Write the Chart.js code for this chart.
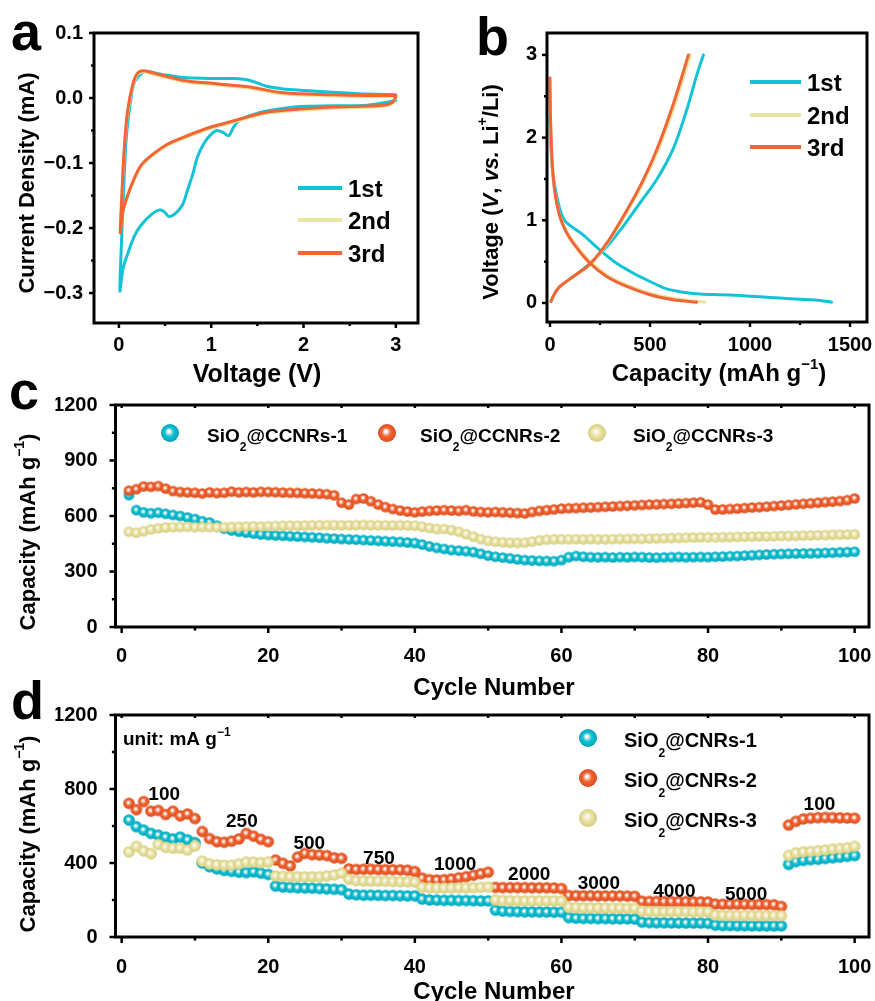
<!DOCTYPE html>
<html>
<head>
<meta charset="utf-8">
<script src="https://cdn.jsdelivr.net/npm/chart.js@4.4.1/dist/chart.umd.min.js"></script>
<style>
  html, body { margin: 0; padding: 0; background: #fff; }
  #fig { position: relative; width: 875px; height: 1001px; overflow: hidden; }
  #fig canvas { position: absolute; left: 0; top: 0; width: 875px; height: 1001px; }
</style>
</head>
<body>
<div id="fig">
  <canvas id="cvA" width="875" height="1001"></canvas>
  <canvas id="cvB" width="875" height="1001"></canvas>
  <canvas id="cvC" width="875" height="1001"></canvas>
  <canvas id="cvD" width="875" height="1001"></canvas>
</div>
<script>
// ---- (a) cyclic voltammetry: voltage (V) / current (mA), path = cathodic sweep then anodic sweep
const cvVolt1 = [3.00, 2.69, 2.32, 1.96, 1.60, 1.42, 1.31, 1.245, 1.19, 1.13, 1.06, 0.99, 0.92, 0.85, 0.80, 0.74, 0.69, 0.60, 0.54, 0.49, 0.44, 0.345, 0.237, 0.165, 0.094, 0.04, 0.011,
                 0.02, 0.047, 0.076, 0.116, 0.166, 0.245, 0.295, 0.40, 0.52, 0.74, 1.06, 1.245, 1.42, 1.60, 1.78, 1.96, 2.32, 2.70, 3.00];
const cvCurr1 = [-0.004, -0.011, -0.012, -0.013, -0.020, -0.027, -0.034, -0.044, -0.058, -0.053, -0.050, -0.057, -0.070, -0.091, -0.117, -0.143, -0.164, -0.179, -0.182, -0.175, -0.172, -0.180, -0.196, -0.213, -0.240, -0.265, -0.297,
                 -0.250, -0.156, -0.068, -0.015, 0.024, 0.038, 0.041, 0.038, 0.035, 0.031, 0.030, 0.030, 0.027, 0.018, 0.014, 0.012, 0.009, 0.006, 0.005];
const cvVolt2 = [3.00, 2.97, 2.86, 2.32, 1.96, 1.60, 1.245, 0.99, 0.74, 0.525, 0.345, 0.237, 0.165, 0.094, 0.04, 0.015,
                 0.03, 0.058, 0.094, 0.148, 0.20, 0.27, 0.41, 0.70, 1.06, 1.42, 1.78, 2.32, 2.70, 3.00];
const cvCurr2 = [0.001, -0.008, -0.013, -0.016, -0.019, -0.024, -0.037, -0.047, -0.060, -0.073, -0.091, -0.106, -0.126, -0.151, -0.176, -0.205,
                 -0.156, -0.080, -0.024, 0.017, 0.036, 0.040, 0.035, 0.025, 0.020, 0.015, 0.006, 0.003, 0.002, 0.002];
const cvVolt3 = [3.00, 2.97, 2.86, 2.32, 1.96, 1.60, 1.245, 0.99, 0.74, 0.525, 0.345, 0.237, 0.165, 0.094, 0.04, 0.015,
                 0.03, 0.058, 0.094, 0.148, 0.20, 0.27, 0.41, 0.70, 1.06, 1.42, 1.78, 2.32, 2.70, 3.00];
const cvCurr3 = [0.003, -0.006, -0.011, -0.014, -0.017, -0.022, -0.035, -0.045, -0.058, -0.071, -0.089, -0.104, -0.124, -0.150, -0.176, -0.207,
                 -0.155, -0.077, -0.020, 0.020, 0.038, 0.042, 0.037, 0.027, 0.022, 0.017, 0.008, 0.005, 0.004, 0.004];
const cvVoltTicks = [0, 1, 2, 3];
const cvCurrTicks = [0.1, 0, -0.1, -0.2, -0.3];

// ---- (b) discharge / charge profiles: capacity (mAh/g), voltage (V)
const gcCap1d = [0, 3, 8, 15, 25, 40, 55, 75, 110, 167, 250, 333, 417, 500, 583, 667, 750, 850, 950, 1050, 1150, 1250, 1350, 1408];
const gcVolt1d = [2.25, 2.0, 1.75, 1.55, 1.40, 1.22, 1.09, 0.99, 0.92, 0.82, 0.64, 0.48, 0.36, 0.26, 0.17, 0.13, 0.11, 0.10, 0.09, 0.075, 0.06, 0.045, 0.03, 0.01];
const gcCap1c = [5, 20, 50, 117, 200, 283, 367, 450, 533, 617, 683, 733, 767];
const gcVolt1c = [0.02, 0.10, 0.20, 0.32, 0.48, 0.68, 0.93, 1.21, 1.49, 1.87, 2.33, 2.75, 3.0];
const gcCap2d = [0, 2, 5, 12, 25, 50, 85, 137, 205, 290, 392, 512, 635, 775];
const gcVolt2d = [2.60, 2.28, 2.04, 1.65, 1.33, 1.05, 0.86, 0.68, 0.49, 0.33, 0.21, 0.11, 0.05, 0.01];
const gcCap2c = [5, 20, 50, 118, 202, 287, 372, 457, 541, 626, 703];
const gcVolt2c = [0.02, 0.10, 0.20, 0.32, 0.47, 0.72, 1.05, 1.41, 1.85, 2.41, 3.0];
const gcCap3d = [0, 2, 5, 12, 25, 50, 83, 133, 200, 283, 383, 500, 617, 733];
const gcVolt3d = [2.72, 2.30, 2.05, 1.65, 1.33, 1.04, 0.85, 0.67, 0.48, 0.32, 0.20, 0.10, 0.04, 0.01];
const gcCap3c = [5, 20, 50, 117, 200, 283, 367, 450, 533, 617, 692];
const gcVolt3c = [0.02, 0.10, 0.20, 0.32, 0.47, 0.72, 1.05, 1.41, 1.85, 2.41, 3.0];
const gcCapTicks = [0, 500, 1000, 1500];
const gcVoltTicks = [0, 1, 2, 3];
const cycleLabels = ['1st', '2nd', '3rd'];

// ---- (c) cycling, capacity (mAh/g) per cycle
const cycles = Array.from({ length: 100 }, (_, i) => i + 1);
const cycCap1 = [713, 632, 620, 615, 618, 612, 606, 600, 592, 584,
                 572, 565, 548, 532, 522, 515, 510, 505, 500, 497,
                 495, 493, 491, 489, 487, 485, 483, 480, 478, 476,
                 474, 472, 470, 468, 466, 464, 462, 460, 457, 454,
                 446, 436, 428, 422, 416, 413, 410, 405, 396, 386,
                 380, 375, 371, 366, 362, 360, 358, 357, 356, 362,
                 378, 384, 380, 378, 377, 378, 376, 378, 377, 379,
                 378, 376, 375, 377, 378, 379, 377, 378, 379, 378,
                 380, 381, 383, 384, 386, 388, 390, 392, 394, 395,
                 396, 397, 398, 398, 399, 401, 402, 404, 405, 407];
const cycCap2 = [737, 745, 760, 758, 762, 748, 735, 730, 728, 726,
                 722, 728, 724, 726, 732, 728, 730, 728, 731, 730,
                 729, 727, 726, 725, 723, 722, 720, 718, 712, 672,
                 662, 692, 695, 680, 662, 648, 638, 630, 624, 620,
                 624, 628, 630, 632, 630, 628, 632, 625, 622, 620,
                 622, 620, 618, 616, 614, 622, 628, 632, 636, 640,
                 642, 643, 645, 646, 648, 650, 652, 654, 656, 658,
                 660, 662, 663, 665, 666, 668, 670, 672, 674, 662,
                 635, 636, 638, 640, 643, 646, 648, 651, 654, 657,
                 660, 663, 666, 669, 672, 675, 678, 681, 686, 695];
const cycCap3 = [515, 510, 518, 528, 534, 538, 540, 541, 542, 540,
                 541, 540, 539, 540, 541, 542, 543, 544, 543, 545,
                 546, 547, 548, 548, 549, 550, 550, 551, 551, 550,
                 550, 551, 552, 551, 550, 550, 549, 550, 549, 548,
                 542, 535, 530, 530, 524, 515, 502, 488, 475, 466,
                 461, 458, 456, 455, 456, 462, 468, 472, 474, 474,
                 474, 475, 474, 475, 474, 474, 475, 476, 476, 477,
                 477, 478, 479, 480, 481, 482, 483, 484, 485, 485,
                 485, 486, 486, 487, 488, 489, 490, 490, 491, 492,
                 492, 493, 494, 495, 496, 497, 498, 499, 500, 501];
const cycLabels = ['SiO_{2}@CCNRs-1', 'SiO_{2}@CCNRs-2', 'SiO_{2}@CCNRs-3'];
const cycleTicks = [0, 20, 40, 60, 80, 100];
const cycCapTicks = [0, 300, 600, 900, 1200];

// ---- (d) rate capability, capacity (mAh/g) per cycle
const rateCap1 = [632, 596, 578, 560, 551, 540, 530, 540, 525, 510,
                  400, 380, 368, 360, 355, 350, 348, 352, 345, 338,
                  275, 270, 268, 266, 265, 264, 262, 260, 258, 256,
                  232, 228, 226, 226, 225, 224, 224, 223, 222, 222,
                  205, 200, 199, 198, 198, 197, 197, 196, 195, 195,
                  145, 140, 138, 137, 136, 136, 135, 135, 134, 134,
                  105, 102, 100, 100, 99, 99, 98, 98, 98, 97,
                  80, 78, 77, 77, 76, 76, 75, 75, 75, 74,
                  64, 62, 62, 61, 61, 60, 60, 60, 60, 60,
                  392, 408, 414, 418, 420, 424, 428, 432, 436, 440];
const rateCap2 = [722, 688, 732, 680, 684, 662, 680, 655, 665, 640,
                  570, 532, 515, 512, 518, 530, 560, 545, 528, 515,
                  416, 398, 384, 432, 452, 445, 443, 440, 428, 425,
                  368, 365, 366, 366, 365, 364, 364, 363, 361, 354,
                  318, 310, 308, 310, 314, 320, 326, 334, 342, 350,
                  268, 267, 267, 267, 267, 266, 266, 266, 265, 262,
                  224, 223, 223, 223, 222, 222, 222, 222, 221, 220,
                  193, 192, 192, 191, 191, 191, 191, 190, 190, 189,
                  178, 177, 177, 177, 177, 176, 176, 175, 174, 165,
                  605, 625, 638, 642, 645, 646, 645, 644, 643, 642];
const rateCap3 = [460, 490, 465, 450, 500, 485, 480, 480, 470, 492,
                  410, 395, 390, 388, 388, 395, 405, 405, 402, 405,
                  330, 328, 326, 326, 325, 325, 326, 330, 335, 345,
                  312, 305, 303, 302, 302, 301, 300, 299, 298, 296,
                  268, 266, 265, 265, 265, 266, 266, 267, 268, 270,
                  200, 197, 196, 196, 195, 195, 195, 195, 195, 194,
                  160, 158, 157, 157, 157, 156, 156, 156, 155, 155,
                  140, 138, 138, 137, 137, 137, 137, 136, 136, 136,
                  118, 117, 116, 116, 116, 115, 115, 115, 115, 115,
                  440, 455, 460, 462, 465, 470, 475, 478, 482, 490];
const rateLabels = ['SiO_{2}@CNRs-1', 'SiO_{2}@CNRs-2', 'SiO_{2}@CNRs-3'];
const rateCapTicks = [0, 400, 800, 1200];
// current densities (mA/g) written above each step, anchored at (cycle, capacity)
const rateNames = ['100', '250', '500', '750', '1000', '2000', '3000', '4000', '5000', '100'];
const rateNameCycle = [5.8, 16.4, 25.6, 35.1, 45.5, 55.6, 65.1, 75.4, 85.2, 95.2];
const rateNameCap = [778, 632, 513, 432, 400, 346, 297, 254, 238, 724];

// ---------------------------------------------------------------
const FONT = '"Liberation Sans", Arial, Helvetica, sans-serif';
const CYAN = '#12c3d6', YELLOW = '#e9e4a1', ORANGE = '#f26535';
const CYAN_D = '#00a3b6', YELLOW_D = '#d3cb82', ORANGE_D = '#d94c1c';
const Y_W = 60, X_H = 40;

Chart.defaults.font.family = FONT;
Chart.defaults.font.weight = 'bold';
Chart.defaults.color = '#000';
Chart.defaults.animation = false;

const pts = (xs, ys) => xs.map((x, i) => ({ x: x, y: ys[i] }));

function parseRich(str) {
  const parts = [];
  const re = /_\{([^}]*)\}|\^\{([^}]*)\}|\*([^*]*)\*|([^_^*]+)/g;
  let m;
  while ((m = re.exec(str))) {
    if (m[1] !== undefined) parts.push({ t: m[1], k: 'sub' });
    else if (m[2] !== undefined) parts.push({ t: m[2], k: 'sup' });
    else if (m[3] !== undefined) parts.push({ t: m[3], k: 'it' });
    else parts.push({ t: m[4], k: 'n' });
  }
  return parts;
}
function richFont(k, size) {
  const s = (k === 'sub' || k === 'sup') ? Math.round(size * 0.62) : size;
  return (k === 'it' ? 'italic ' : '') + 'bold ' + s + 'px ' + FONT;
}
// y is the baseline
function drawRich(ctx, str, x, y, size, align) {
  const parts = parseRich(str);
  ctx.save();
  ctx.textBaseline = 'alphabetic';
  ctx.textAlign = 'left';
  let w = 0;
  parts.forEach(p => { ctx.font = richFont(p.k, size); p.w = ctx.measureText(p.t).width; w += p.w; });
  let cx = align === 'center' ? x - w / 2 : (align === 'right' ? x - w : x);
  parts.forEach(p => {
    ctx.font = richFont(p.k, size);
    let dy = 0;
    if (p.k === 'sub') dy = size * 0.5;
    if (p.k === 'sup') dy = -size * 0.48;
    ctx.fillText(p.t, cx, y + dy);
    cx += p.w;
  });
  ctx.restore();
}

function sphere(color, dark, r) {
  const c = document.createElement('canvas');
  const s = Math.ceil(r * 2 + 2);
  c.width = c.height = s;
  const g = c.getContext('2d');
  const m = s / 2;
  const grad = g.createRadialGradient(m - r * 0.15, m - r * 0.2, 0, m, m, r);
  grad.addColorStop(0, '#ffffff');
  grad.addColorStop(0.15, '#fbf4ef');
  grad.addColorStop(0.5, color);
  grad.addColorStop(1, dark);
  g.fillStyle = grad;
  g.beginPath();
  g.arc(m, m, r, 0, Math.PI * 2);
  g.fill();
  return c;
}

function axisX(min, max, ticks, fmt, pad) {
  return {
    type: 'linear', position: 'bottom', min: min, max: max,
    grid: { display: false, drawTicks: false }, border: { display: false },
    afterBuildTicks: s => { s.ticks = ticks.map(v => ({ value: v })); },
    afterFit: s => { s.height = X_H; s.paddingLeft = 0; s.paddingRight = 0; },
    ticks: { padding: pad, autoSkip: false, maxRotation: 0, color: '#000',
             font: { size: 20, weight: 'bold', lineHeight: 1 }, callback: fmt }
  };
}
function axisY(min, max, ticks, fmt, pad) {
  return {
    type: 'linear', position: 'left', min: min, max: max,
    grid: { display: false, drawTicks: false }, border: { display: false },
    afterBuildTicks: s => { s.ticks = ticks.map(v => ({ value: v })); },
    afterFit: s => { s.width = Y_W; s.paddingTop = 0; s.paddingBottom = 0; },
    ticks: { padding: pad, autoSkip: false, color: '#000',
             font: { size: 20, weight: 'bold', lineHeight: 1 }, callback: fmt }
  };
}
function pad(left, top, right, bottom) {
  return { left: left - Y_W, top: top, right: 875 - right, bottom: 1001 - bottom - X_H };
}

// frame, tick marks and texts
function decor(cfg) {
  return {
    id: 'decor' + cfg.name,
    afterDatasetsDraw(chart) {
      const ctx = chart.ctx, a = chart.chartArea, x = chart.scales.x, y = chart.scales.y;
      ctx.save();
      ctx.strokeStyle = '#000';
      ctx.lineWidth = 2.5;
      const vx = (v, y0, y1) => { const p = x.getPixelForValue(v); ctx.beginPath(); ctx.moveTo(p, y0); ctx.lineTo(p, y1); ctx.stroke(); };
      const vy = (v, x0, x1) => { const p = y.getPixelForValue(v); ctx.beginPath(); ctx.moveTo(x0, p); ctx.lineTo(x1, p); ctx.stroke(); };
      cfg.xMajor.forEach(v => vx(v, a.bottom, a.bottom + cfg.tl));
      cfg.xMinor.forEach(v => vx(v, a.bottom, a.bottom + cfg.tl * 0.6));
      cfg.yMajor.forEach(v => vy(v, a.left, a.left - cfg.tl));
      cfg.yMinor.forEach(v => vy(v, a.left, a.left - cfg.tl * 0.6));
      if (cfg.topTicks) cfg.topTicks.forEach(v => vx(v, a.top, a.top + 3));
      ctx.lineWidth = 3;
      ctx.strokeRect(a.left, a.top, a.right - a.left, a.bottom - a.top);
      ctx.restore();
    },
    afterDraw(chart) {
      const ctx = chart.ctx;
      ctx.save();
      ctx.fillStyle = '#000';
      cfg.texts.forEach(t => {
        if (t.rot) {
          ctx.save();
          ctx.translate(t.x, t.y);
          ctx.rotate(-Math.PI / 2);
          drawRich(ctx, t.s, 0, 0, t.size, 'center');
          ctx.restore();
        } else {
          drawRich(ctx, t.s, t.x, t.y, t.size, t.align || 'center');
        }
      });
      if (cfg.extra) cfg.extra(chart, ctx);
      ctx.restore();
    }
  };
}

function lineLegend(ctx, colors, labels, x0, x1, ys) {
  labels.forEach((l, i) => {
    ctx.strokeStyle = colors[i];
    ctx.lineWidth = 4;
    ctx.beginPath();
    ctx.moveTo(x0, ys[i]);
    ctx.lineTo(x1, ys[i]);
    ctx.stroke();
    ctx.fillStyle = '#000';
    drawRich(ctx, l, x1 + 6, ys[i] + 8.6, 24, 'left');
  });
}

const lineDs = (label, data, color, order) => ({
  label: label, data: data, borderColor: color, backgroundColor: color, order: order,
  showLine: true, pointRadius: 0, borderWidth: 3, tension: 0.3, fill: false,
  borderCapStyle: 'round', borderJoinStyle: 'round'
});

// ---------------- (a)
new Chart(document.getElementById('cvA'), {
  type: 'scatter',
  data: { datasets: [
    lineDs('1st', pts(cvVolt1, cvCurr1), CYAN, 3),
    lineDs('2nd', pts(cvVolt2, cvCurr2), YELLOW, 2),
    lineDs('3rd', pts(cvVolt3, cvCurr3), ORANGE, 1)
  ] },
  options: {
    responsive: false,
    layout: { padding: pad(94, 33, 418, 323) },
    plugins: { legend: { display: false }, tooltip: { enabled: false } },
    scales: {
      x: axisX(-0.27, 3.24, cvVoltTicks, v => String(v), 12),
      y: axisY(-0.346, 0.1, cvCurrTicks, v => v === 0 ? '0.0' : (v < 0 ? '\u2212' : '') + Math.abs(v).toFixed(1), 11)
    }
  },
  plugins: [decor({
    name: 'A', tl: 5,
    xMajor: cvVoltTicks, xMinor: [0.5, 1.5, 2.5],
    yMajor: cvCurrTicks, yMinor: [0.05, -0.05, -0.15, -0.25],
    texts: [
      { s: 'a', x: 11, y: 50, size: 54, align: 'left' },
      { s: 'Current Density (mA)', x: 34, y: 183, size: 22, rot: true },
      { s: 'Voltage (V)', x: 257, y: 382, size: 25 }
    ],
    extra: (chart, ctx) => lineLegend(ctx, [CYAN, YELLOW, ORANGE], cycleLabels, 298, 342, [188, 220, 253])
  })]
});

// ---------------- (b)
new Chart(document.getElementById('cvB'), {
  type: 'scatter',
  data: { datasets: [
    lineDs('1st', pts(gcCap1d, gcVolt1d), CYAN, 5),
    lineDs('1st', pts(gcCap1c, gcVolt1c), CYAN, 5),
    lineDs('2nd', pts(gcCap2d, gcVolt2d), YELLOW, 4),
    lineDs('2nd', pts(gcCap2c, gcVolt2c), YELLOW, 4),
    lineDs('3rd', pts(gcCap3d, gcVolt3d), ORANGE, 2),
    lineDs('3rd', pts(gcCap3c, gcVolt3c), ORANGE, 2)
  ] },
  options: {
    responsive: false,
    layout: { padding: pad(547, 33, 867, 322) },
    plugins: { legend: { display: false }, tooltip: { enabled: false } },
    scales: {
      x: axisX(-15, 1585, gcCapTicks, v => String(v), 13),
      y: axisY(-0.23, 3.265, gcVoltTicks, v => String(v), 10)
    }
  },
  plugins: [decor({
    name: 'B', tl: 5,
    xMajor: gcCapTicks, xMinor: [250, 750, 1250],
    yMajor: gcVoltTicks, yMinor: [0.5, 1.5, 2.5],
    texts: [
      { s: 'b', x: 476, y: 55, size: 54, align: 'left' },
      { s: 'Voltage (*V*, *vs.* Li^{+}/Li)', x: 498, y: 192, size: 22, rot: true },
      { s: 'Capacity (mAh g^{\u22121})', x: 719, y: 381, size: 24 }
    ],
    extra: (chart, ctx) => lineLegend(ctx, [CYAN, YELLOW, ORANGE], cycleLabels, 750, 801, [82, 115, 147])
  })]
});

// ---------------- (c) and (d)
const dotC = [sphere(CYAN, CYAN_D, 5.3), sphere(ORANGE, ORANGE_D, 5.3), sphere(YELLOW, YELLOW_D, 5.3)];
const dotD = [sphere(CYAN, CYAN_D, 5.8), sphere(ORANGE, ORANGE_D, 5.8), sphere(YELLOW, YELLOW_D, 5.8)];
const dotLeg = [sphere(CYAN, CYAN_D, 9), sphere(ORANGE, ORANGE_D, 9), sphere(YELLOW, YELLOW_D, 9)];

const dotDs = (label, data, img, order) => ({
  label: label, data: data, pointStyle: img, pointRadius: 5, order: order, showLine: false
});

new Chart(document.getElementById('cvC'), {
  type: 'scatter',
  data: { datasets: [
    dotDs(cycLabels[0], pts(cycles, cycCap1), dotC[0], 3),
    dotDs(cycLabels[1], pts(cycles, cycCap2), dotC[1], 2),
    dotDs(cycLabels[2], pts(cycles, cycCap3), dotC[2], 1)
  ] },
  options: {
    responsive: false,
    layout: { padding: pad(115.5, 405, 871, 627) },
    plugins: { legend: { display: false }, tooltip: { enabled: false } },
    scales: {
      x: axisX(-0.84, 101.96, cycleTicks, v => String(v), 19),
      y: axisY(0, 1200, cycCapTicks, v => String(v), 18)
    }
  },
  plugins: [decor({
    name: 'C', tl: 6,
    xMajor: cycleTicks, xMinor: [10, 30, 50, 70, 90],
    yMajor: cycCapTicks, yMinor: [150, 450, 750, 1050],
    topTicks: [0, 10, 20, 30, 40, 50, 60, 70, 80, 90, 100],
    texts: [
      { s: 'c', x: 9, y: 409, size: 54, align: 'left' },
      { s: 'Capacity (mAh g^{\u22121})', x: 35, y: 532, size: 22, rot: true },
      { s: 'Cycle Number', x: 494, y: 695, size: 24 }
    ],
    extra: (chart, ctx) => {
      const mx = [170, 387, 597], tx = [207, 420, 633];
      cycLabels.forEach((l, i) => {
        ctx.drawImage(dotLeg[i], mx[i] - dotLeg[i].width / 2, 433 - dotLeg[i].height / 2);
        drawRich(ctx, l, tx[i], 441.5, 19, 'left');
      });
    }
  })]
});

new Chart(document.getElementById('cvD'), {
  type: 'scatter',
  data: { datasets: [
    dotDs(rateLabels[0], pts(cycles, rateCap1), dotD[0], 3),
    dotDs(rateLabels[1], pts(cycles, rateCap2), dotD[1], 2),
    dotDs(rateLabels[2], pts(cycles, rateCap3), dotD[2], 1)
  ] },
  options: {
    responsive: false,
    layout: { padding: pad(115.5, 715, 871, 937) },
    plugins: { legend: { display: false }, tooltip: { enabled: false } },
    scales: {
      x: axisX(-0.84, 101.96, cycleTicks, v => String(v), 20),
      y: axisY(0, 1200, rateCapTicks, v => String(v), 18)
    }
  },
  plugins: [decor({
    name: 'D', tl: 6,
    xMajor: cycleTicks, xMinor: [10, 30, 50, 70, 90],
    yMajor: rateCapTicks, yMinor: [200, 600, 1000],
    topTicks: [0, 10, 20, 30, 40, 50, 60, 70, 80, 90, 100],
    texts: [
      { s: 'd', x: 11, y: 719, size: 54, align: 'left' },
      { s: 'Capacity (mAh g^{\u22121})', x: 35, y: 834, size: 22, rot: true },
      { s: 'Cycle Number', x: 494, y: 999, size: 24 },
      { s: 'unit: mA g^{\u22121}', x: 123, y: 745, size: 19, align: 'left' }
    ],
    extra: (chart, ctx) => {
      const xs = chart.scales.x, ys = chart.scales.y;
      rateNames.forEach((n, i) => {
        drawRich(ctx, n, xs.getPixelForValue(rateNameCycle[i]), ys.getPixelForValue(rateNameCap[i]) + 7, 19, 'center');
      });
      const my = [738, 778, 818];
      rateLabels.forEach((l, i) => {
        ctx.drawImage(dotLeg[i], 588 - dotLeg[i].width / 2, my[i] - dotLeg[i].height / 2);
        drawRich(ctx, l, 624, my[i] + 8.5, 20, 'left');
      });
    }
  })]
});
</script>
</body>
</html>
